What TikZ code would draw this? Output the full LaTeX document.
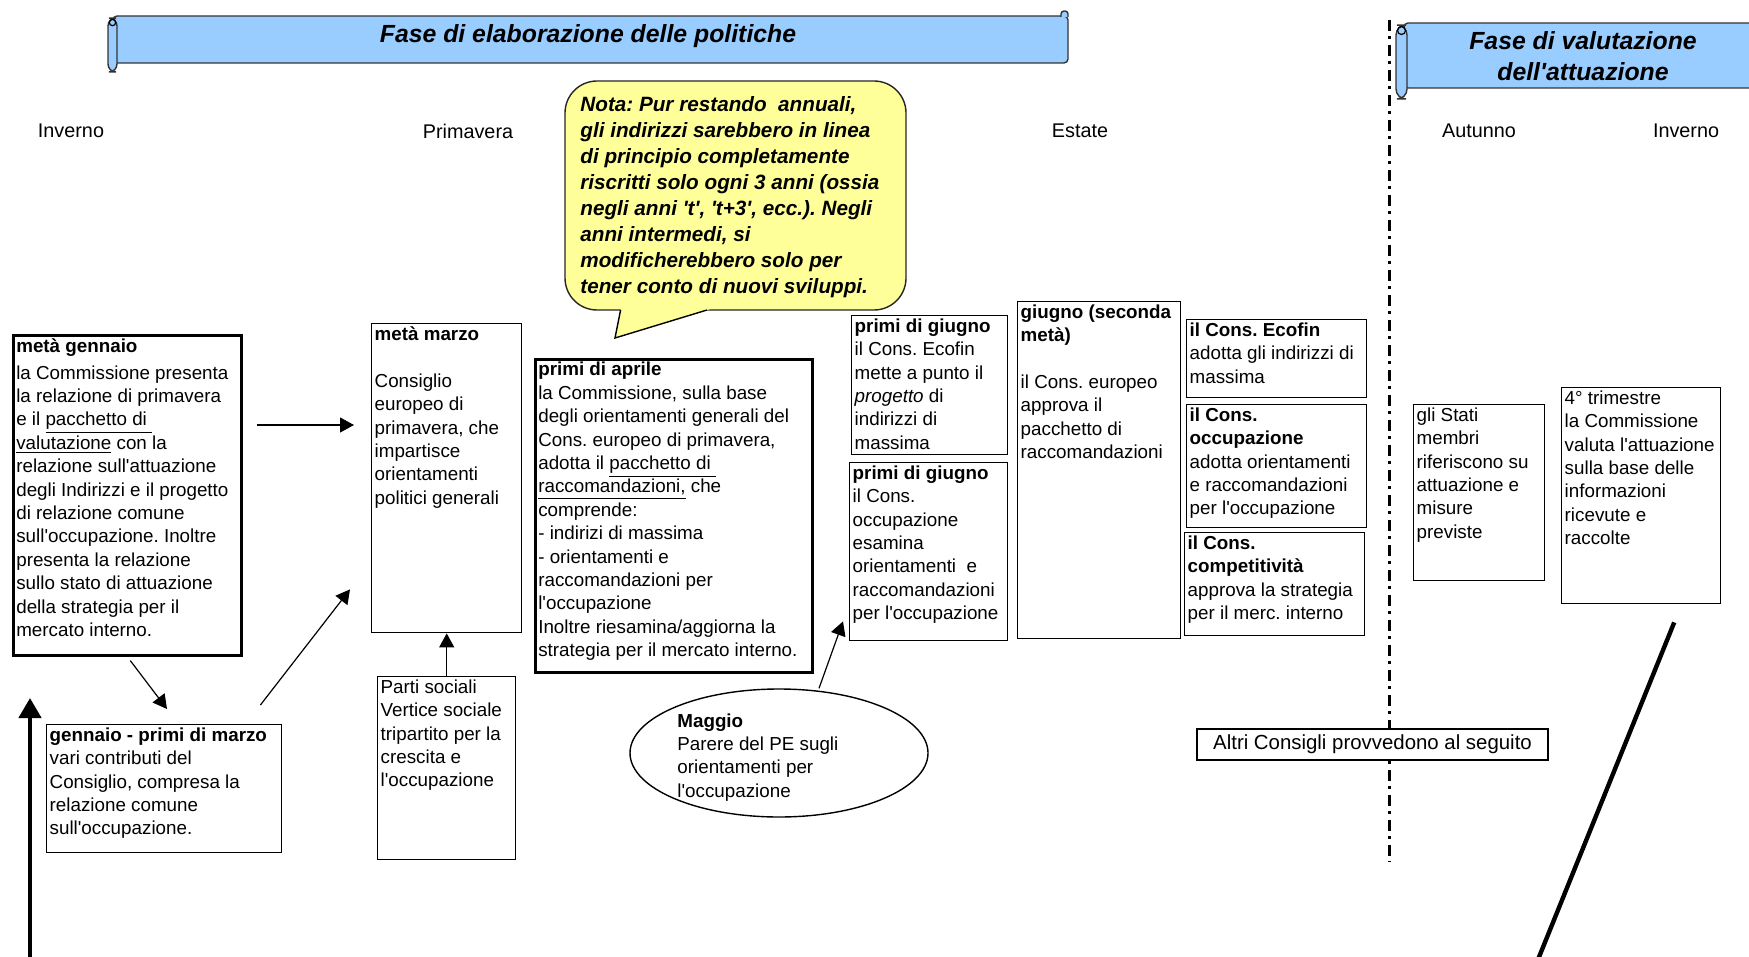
\documentclass[tikz,border=0pt]{standalone}
\usepackage{fontspec}
\setmainfont{Liberation Sans}[Ligatures=TeXOff]
\usetikzlibrary{arrows.meta,shapes.geometric,calc}

\definecolor{bannerblue}{HTML}{99CCFF}
\definecolor{notayellow}{HTML}{FFFF99}

\newcommand{\evfont}{\fontsize{9.4}{11.7}\selectfont}
\newcommand{\cella}[3]{\parbox[t][#2][t]{#1}{#3}}
\frenchspacing

\tikzset{
  evbox/.style={draw, line width=0.7pt, anchor=north west, inner sep=1.5pt, font=\evfont},
  evboxk/.style={evbox, line width=1.3pt},
  season/.style={font=\fontsize{9.9}{12}\selectfont},
  titolo/.style={font=\fontsize{12.4}{15.6}\selectfont\bfseries\itshape, align=center},
  banner/.style={fill=bannerblue, draw=black!80, line width=0.7pt},
  nota/.style={fill=notayellow, draw=black!85, line width=0.7pt},
  arr/.style={line width=0.6pt, -{Triangle[length=7pt,width=7.5pt]}},
  bigarr/.style={line width=2.2pt, -{Triangle[length=10pt,width=11pt]}},
  divisore/.style={line width=1.5pt, dash pattern=on 5.5pt off 2.5pt on 1.5pt off 3pt},
}

\begin{document}
\begin{tikzpicture}[x=0.5pt,y=-0.5pt]
\useasboundingbox (0,0) rectangle (1749,957);

% banners
\draw[banner, rounded corners=2pt] (113,16) -- (1068,16) -- (1068,63) -- (113,63) -- cycle;
\draw[banner, rounded corners=1.5pt] (1061,17) -- (1061,11) -- (1068,11) -- (1068,17);
\draw[banner, rounded corners=4pt] (108,18) rectangle (117,72);
\draw[line width=0.6pt] (112.5,22.5) circle [radius=1.6pt];
\draw[banner, rounded corners=2pt] (1404,23) -- (1760,23) -- (1760,88) -- (1404,88) -- cycle;
\draw[banner, rounded corners=5pt] (1396,25) rectangle (1407,99);
\draw[line width=0.6pt] (1401.5,30.5) circle [radius=2pt];
\node[titolo] (fase1) at (588,36) {Fase di elaborazione delle politiche};
\node[titolo] (fase2) at (1583,56) {Fase di valutazione\\dell'attuazione};

\foreach \nome/\xx in {Inverno/71,Primavera/468,Estate/1080,Autunno/1479,Inverno/1686}
  \node[season] (st\xx) at (\xx,131) {\nome};

\coordinate (div0) at (1389,20);
\coordinate (div1) at (1389,862);
\draw[divisore] (div0) -- (div1);

% nota
\draw[nota, rounded corners=16pt] (565,81) rectangle (906,310);
\fill[notayellow] (622.5,300) -- (615,338) -- (740,300) -- cycle;
\draw[line width=0.7pt, line join=miter] (620.6,310) -- (615,338) -- (707,310);
\node[anchor=base west, inner sep=0pt, font=\fontsize{10.35}{13}\selectfont\bfseries\itshape] (notat) at (580,112)
  {\parbox[t]{172pt}{Nota: Pur restando\ \ annuali,\\ gli indirizzi sarebbero in linea\\ di principio completamente\\ riscritti solo ogni 3 anni (ossia\\ negli anni 't', 't+3', ecc.). Negli\\ anni intermedi, si\\ modificherebbero solo per\\ tener conto di nuovi sviluppi.}};

% eventi
\node[evboxk] (gen) at (12,334) {\cella{111pt}{157pt}{\textbf{metà gennaio}\\[1.8pt] la Commissione presenta\\ la relazione di primavera\\ e il \underline{pacchetto di\ }\\ \underline{valutazione} con la\\ relazione sull'attuazione\\ degli Indirizzi e il progetto\\ di relazione comune\\ sull'occupazione. Inoltre\\ presenta la relazione\\ sullo stato di attuazione\\ della strategia per il\\ mercato interno.}};
\node[evbox] (marzo) at (371,323) {\cella{72pt}{151.5pt}{\textbf{metà marzo}\\ \mbox{}\\ Consiglio\\ europeo di\\ primavera, che\\ impartisce\\ orientamenti\\ politici generali}};
\node[evbox] (parti) at (377,676) {\cella{66pt}{88.5pt}{Parti sociali\\ Vertice sociale\\ tripartito per la\\ crescita e\\ l'occupazione}};
\node[evbox] (genmar) at (46,724) {\cella{114.5pt}{61pt}{\textbf{gennaio - primi di marzo}\\ vari contributi del\\ Consiglio, compresa la\\ relazione comune\\ sull'occupazione.}};
\node[evboxk] (aprile) at (534,358) {\cella{135.5pt}{153.5pt}{\textbf{primi di aprile}\\ la Commissione, sulla base\\ degli orientamenti generali del\\ Cons. europeo di primavera,\\ adotta il \underline{pacchetto di\ }\\ \underline{raccomandazioni,} che\\ comprende:\\ - indirizi di massima\\ - orientamenti e\\ raccomandazioni per\\ l'occupazione\\ Inoltre riesamina/aggiorna la\\ strategia per il mercato interno.}};
\node[evbox] (giugno1) at (851,315) {\cella{75pt}{66.5pt}{\textbf{primi di giugno}\\ il Cons. Ecofin\\ mette a punto il\\ \textit{progetto} di\\ indirizzi di\\ massima}};
\node[evbox] (giugno2) at (849,462) {\cella{76pt}{86pt}{\textbf{primi di giugno}\\ il Cons.\\ occupazione\\ esamina\\ orientamenti\ \ e\\ raccomandazioni\\ per l'occupazione}};
\node[evbox] (giugnob) at (1017,301) {\cella{78.5pt}{165.5pt}{\textbf{giugno (seconda}\\ \textbf{metà)}\\ \mbox{}\\ il Cons. europeo\\ approva il\\ pacchetto di\\ raccomandazioni}};
\node[evbox] (ecofin) at (1186,319) {\cella{87pt}{36pt}{\textbf{il Cons. Ecofin}\\ adotta gli indirizzi di\\ massima}};
\node[evbox] (occup) at (1186,404) {\cella{87pt}{58.5pt}{\textbf{il Cons.}\\ \textbf{occupazione}\\ adotta orientamenti\\ e raccomandazioni\\ per l'occupazione}};
\node[evbox] (compet) at (1184,532) {\cella{87pt}{48.5pt}{\textbf{il Cons.}\\ \textbf{competitività}\\ approva la strategia\\ per il merc. interno}};
\node[evbox] (stati) at (1413,404) {\cella{62.5pt}{85pt}{gli Stati\\ membri\\ riferiscono su\\ attuazione e\\ misure\\ previste}};
\node[evbox] (trim) at (1561,387) {\cella{76.5pt}{105pt}{4° trimestre\\ la Commissione\\ valuta l'attuazione\\ sulla base delle\\ informazioni\\ ricevute e\\ raccolte}};

\node[draw, fill=white, line width=0.6pt, minimum width=175.5pt, minimum height=15.5pt, inner sep=0pt, font=\fontsize{10.2}{12}\selectfont] (altri) at (1372.5,744.5) {Altri Consigli provvedono al seguito};

\node[draw, ellipse, line width=0.7pt, minimum width=149pt, minimum height=64pt, inner sep=0pt] (mag) at (779,753) {};
\node[anchor=base west, inner sep=0pt, font=\evfont] (magt) at (677,727) {\parbox[t]{92pt}{\textbf{Maggio}\\ Parere del PE sugli\\ orientamenti per\\ l'occupazione}};

% frecce
\draw[arr] ($(gen.north east)+(14,91)$) -- ($(marzo.north west)+(-17,102)$);
\draw[arr] ($(gen.south)+(3,4)$) -- ($(genmar.north west)+(121,-15)$);
\draw[arr] ($(genmar.north east)+(-22,-19)$) -- ($(marzo.south west)+(-21,-44)$);
\draw[arr] (parti.north) -- (marzo.south);
\draw[arr] ($(mag.north)+(40,0)$) -- ($(giugno2.south west)+(-6,-20)$);

\coordinate (ciclo0) at (30,962);
\coordinate (ciclo1) at (30,698);
\draw[bigarr] (ciclo0) -- (ciclo1);
\coordinate (fine) at (1537,962);
\draw[line width=2.2pt] ($(trim.south)+(33,18)$) -- (fine);
\end{tikzpicture}
\end{document}
